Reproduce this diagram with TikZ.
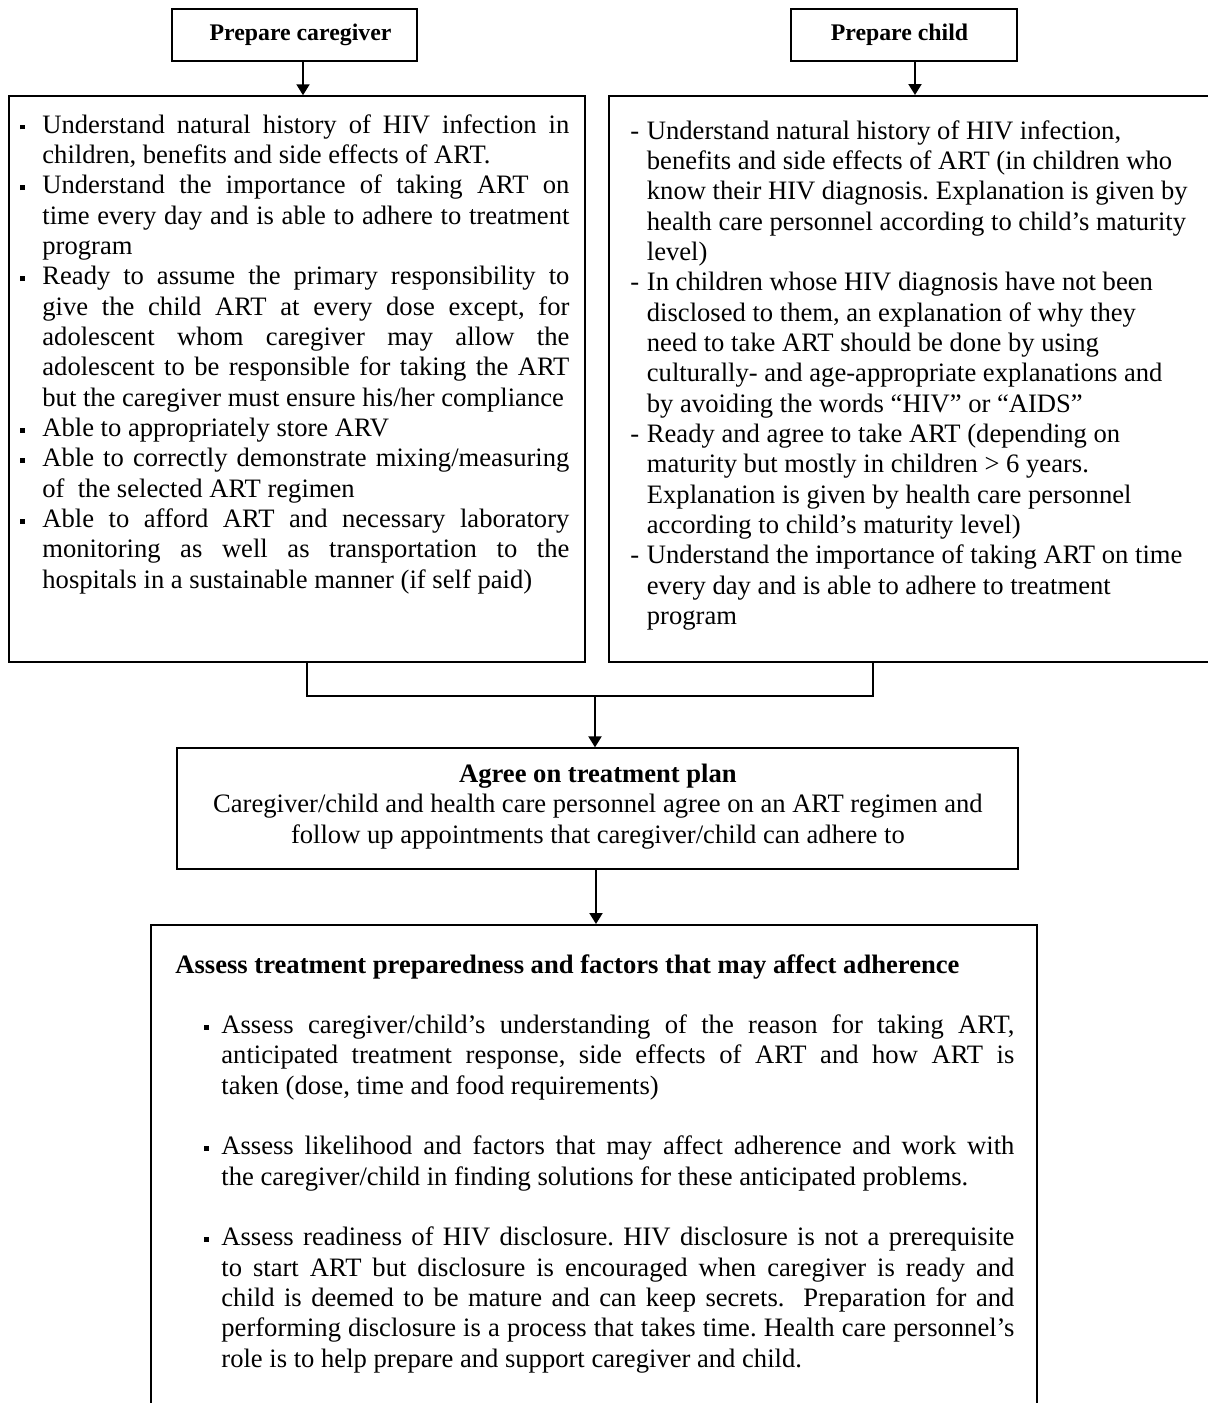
\documentclass[tikz,border=0pt]{standalone}
\usepackage{fontspec}
\setmainfont{Liberation Serif}
\usetikzlibrary{arrows.meta,fit}

% line builders: marker + justified / ragged first line, continuation lines
\newlength\hng
\newcommand\bsq{\raisebox{1.8pt}{\rule{2.4pt}{2.4pt}}}
\newcommand\FJ[2]{\hbox to\hsize{\hbox to\hng{#1\hfil}#2}}
\newcommand\FL[2]{\hbox to\hsize{\hbox to\hng{#1\hfil}#2\hfil}}
\newcommand\CJ[1]{\hbox to\hsize{\hskip\hng #1}}
\newcommand\CL[1]{\hbox to\hsize{\hskip\hng #1\hfil}}
\newcommand\CC[1]{\hbox to\hsize{\hfil #1\hfil}}
\newcommand\setlines{\baselineskip=15.17pt\lineskiplimit=-100pt\lineskip=0pt}
\newcommand\gapline{\vskip 15.17pt}

\begin{document}
\begin{tikzpicture}[x=0.5pt,y=-0.5pt,
  font=\fontsize{13.3pt}{15.17pt}\selectfont\frenchspacing,
  thinbox/.style={draw, line width=0.65pt, inner sep=0pt},
  thickbox/.style={draw, line width=1pt, inner sep=0pt},
  lbl/.style={inner sep=0pt, anchor=base, font=\fontsize{11.9pt}{14pt}\selectfont\bfseries},
  txt/.style={inner sep=0pt, anchor=base west},
  conn/.style={line width=0.65pt},
  arr/.style={line width=1pt, -{Triangle[width=6.5pt,length=5.5pt]}}]

\useasboundingbox (0,0) rectangle (1208,1403);
\fill[white] (0,0) rectangle (1208,1403);

% header boxes
\node[thinbox, fit={(172,9)(417,61)}] (cgbox) {};
\node[lbl] (cgtxt) at (300.5,40) {Prepare caregiver};
\node[thinbox, fit={(791,9)(1017,61)}] (chbox) {};
\node[lbl] (chtxt) at (899.5,40) {Prepare child};

% requirement boxes
\node[thinbox, line width=0.75pt, fit={(9,96)(585,662)}] (lbox) {};
\node[thickbox, fit={(609,96)(1209,662)}] (rbox) {};

% plan and assessment boxes
\node[thinbox, fit={(177,748)(1018,869)}] (agree) {};
\node[thickbox, fit={(151,925)(1037,1425)}] (assess) {};

% caregiver requirements
\node[txt] (ltxt) at (20,133) {\vtop{\hsize=274.5pt\hng=11pt\setlines
\FJ{\bsq}{Understand natural history of HIV infection in}
\CL{children, benefits and side effects of ART.}
\FJ{\bsq}{Understand the importance of taking ART on}
\CJ{time every day and is able to adhere to treatment}
\CL{program}
\FJ{\bsq}{Ready to assume the primary responsibility to}
\CJ{give the child ART at every dose except, for}
\CJ{adolescent whom caregiver may allow the}
\CJ{adolescent to be responsible for taking the ART}
\CL{but the caregiver must ensure his/her compliance}
\FL{\bsq}{Able to appropriately store ARV}
\FJ{\bsq}{Able to correctly demonstrate mixing/measuring}
\CL{of\ \ the selected ART regimen}
\FJ{\bsq}{Able to afford ART and necessary laboratory}
\CJ{monitoring as well as transportation to the}
\CL{hospitals in a sustainable manner (if self paid)}
}};

% child requirements
\node[txt] (rtxt) at (630,139) {\vtop{\hsize=285pt\hng=8.25pt\setlines
\FL{-}{Understand natural history of HIV infection,}
\CL{benefits and side effects of ART (in children who}
\CL{know their HIV diagnosis. Explanation is given by}
\CL{health care personnel according to child’s maturity}
\CL{level)}
\FL{-}{In children whose HIV diagnosis have not been}
\CL{disclosed to them, an explanation of why they}
\CL{need to take ART should be done by using}
\CL{culturally- and age-appropriate explanations and}
\CL{by avoiding the words “HIV” or “AIDS”}
\FL{-}{Ready and agree to take ART (depending on}
\CL{maturity but mostly in children > 6 years.}
\CL{Explanation is given by health care personnel}
\CL{according to child’s maturity level)}
\FL{-}{Understand the importance of taking ART on time}
\CL{every day and is able to adhere to treatment}
\CL{program}
}};

% treatment plan
\node[txt] (agtxt) at (177,782.5) {\vtop{\hsize=420.5pt\setlines
\CC{\bfseries Agree on treatment plan}
\CC{Caregiver/child and health care personnel agree on an ART regimen and}
\CC{follow up appointments that caregiver/child can adhere to}
}};

% assessment
\node[txt, font=\fontsize{13.3pt}{15.17pt}\selectfont\bfseries] (astitle) at (175,973)
  {Assess treatment preparedness and factors that may affect adherence};
\node[txt] (astxt) at (204,1033.4) {\vtop{\hsize=405pt\hng=8.5pt\setlines
\FJ{\bsq}{Assess caregiver/child’s understanding of the reason for taking ART,}
\CJ{anticipated treatment response, side effects of ART and how ART is}
\CL{taken (dose, time and food requirements)}
\gapline
\FJ{\bsq}{Assess likelihood and factors that may affect adherence and work with}
\CL{the caregiver/child in finding solutions for these anticipated problems.}
\gapline
\FJ{\bsq}{Assess readiness of HIV disclosure. HIV disclosure is not a prerequisite}
\CJ{to start ART but disclosure is encouraged when caregiver is ready and}
\CJ{child is deemed to be mature and can keep secrets.\ \ Preparation for and}
\CJ{performing disclosure is a process that takes time. Health care personnel’s}
\CL{role is to help prepare and support caregiver and child.}
}};

% connectors
\coordinate (ax1) at (303,0);
\coordinate (ax2) at (915,0);
\coordinate (bl) at (307,696);
\coordinate (br) at (873,696);
\coordinate (mid) at (595,696);
\coordinate (ax3) at (596,0);
\draw[arr] (cgbox.south -| ax1) -- (lbox.north -| ax1);
\draw[arr] (chbox.south -| ax2) -- (rbox.north -| ax2);
\draw[conn] (lbox.south -| bl) -- (bl) -- (br) -- (rbox.south -| br);
\draw[arr] (mid) -- (agree.north -| mid);
\draw[arr] (agree.south -| ax3) -- (assess.north -| ax3);
\end{tikzpicture}
\end{document}
